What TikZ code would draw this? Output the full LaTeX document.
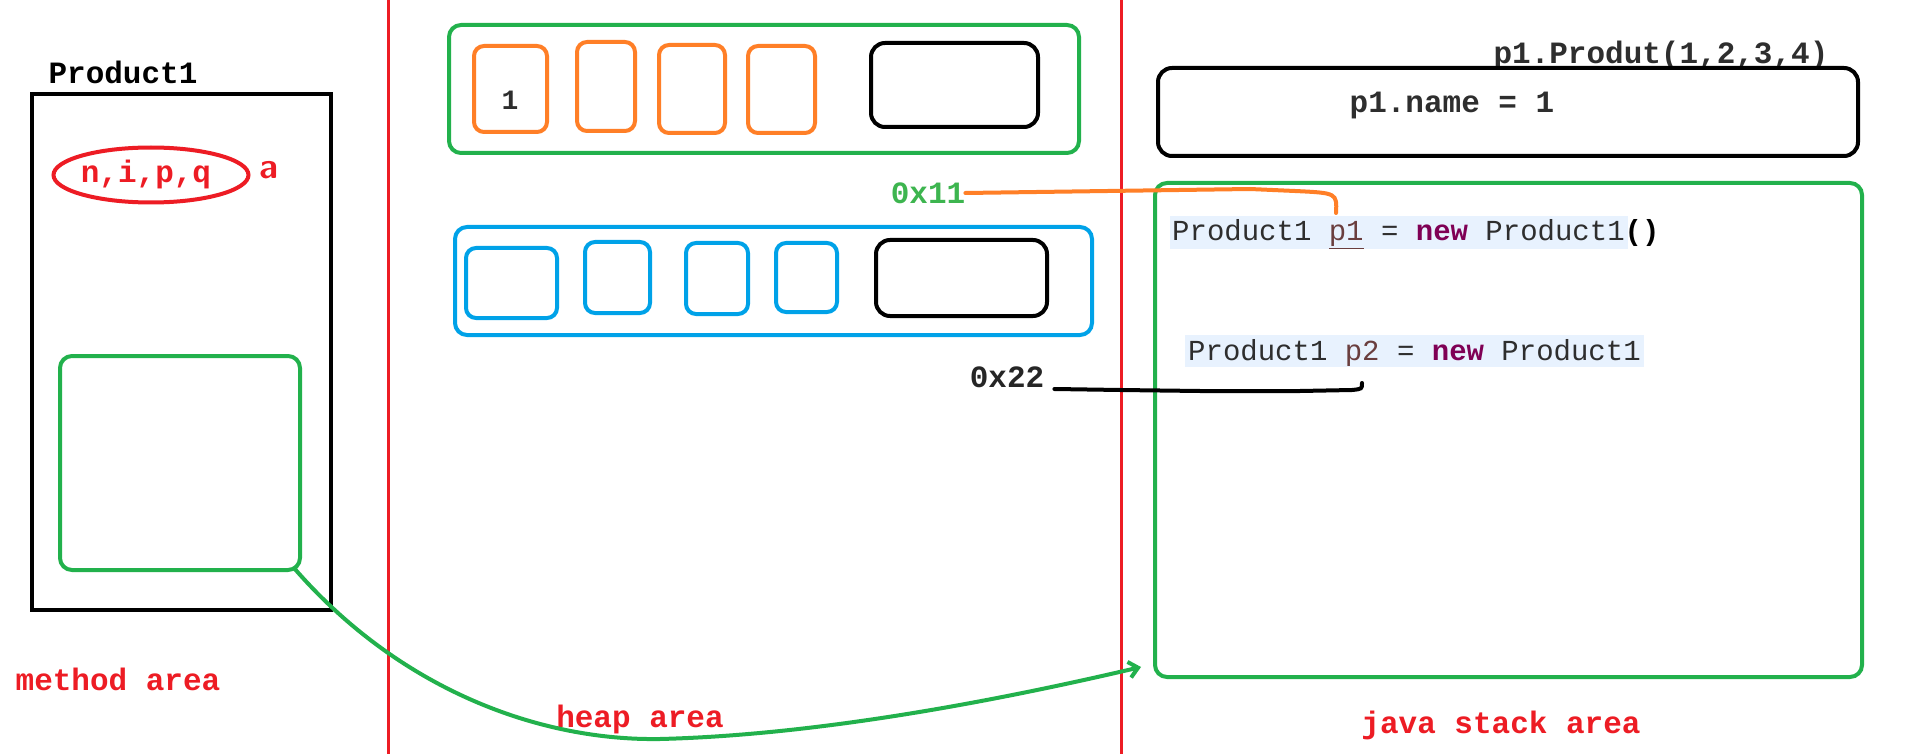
\documentclass[tikz,border=0pt]{standalone}
\usepackage{fontspec}
\setmonofont{Liberation Mono}
\usetikzlibrary{arrows.meta,shapes.geometric}
\definecolor{pred}{HTML}{ED1C24}
\definecolor{pgreen}{HTML}{22B14C}
\definecolor{tgreen}{HTML}{3DB54F}
\definecolor{porange}{HTML}{FF7F27}
\definecolor{pblue}{HTML}{00A2E8}
\definecolor{hl}{HTML}{E8F2FE}
\definecolor{kw}{HTML}{7F0055}
\definecolor{varc}{HTML}{6A3E3E}
\definecolor{codec}{HTML}{2E2E2E}
\newcommand\myfs[1]{\fontsize{#1}{#1}\selectfont}
\begin{document}
\begin{tikzpicture}[x=1pt,y=-1pt,
  bx/.style={draw, line width=4pt, rounded corners=12pt, inner sep=0pt},
  gbox/.style={bx, draw=pgreen},
  obox/.style={bx, draw=porange, rounded corners=10pt},
  bbox/.style={bx, draw=pblue, rounded corners=10pt},
  kbox/.style={bx, draw=black, rounded corners=14pt},
  lbl/.style={font=\ttfamily\bfseries\myfs{31}, inner sep=0pt},
  area/.style={font=\ttfamily\bfseries\myfs{31}, text=pred, inner sep=0pt},
  codetxt/.style={font=\ttfamily\myfs{29}, text=codec, inner sep=0pt, anchor=base west},
  redline/.style={draw=pred, line width=3pt}
]
\useasboundingbox[fill=white] (0,0) rectangle (1907,754);

% red separators
\coordinate (r1t) at (388,0); \coordinate (r1b) at (388,754);
\coordinate (r2t) at (1121,0); \coordinate (r2b) at (1121,754);
\draw[redline] (r1t) -- (r1b);
\draw[redline] (r2t) -- (r2b);

% method area
\node[lbl] (prodlbl) at (123,72) {Product1};
\node[draw, line width=4pt, minimum width=299pt, minimum height=516pt, inner sep=0pt] (classbox) at (181.5,352) {};
\node[draw=pred, line width=4pt, ellipse, minimum width=195pt, minimum height=55pt, inner sep=0pt] (ell) at (151,175) {};
\node[font=\ttfamily\bfseries\myfs{31}, text=pred, inner sep=0pt] (vars) at (146,174) {n,i,p,q};
\node[font=\sffamily\bfseries\myfs{36}, text=pred, inner sep=0pt] (ascr) at (269,170) {a};
\node[gbox, minimum width=240pt, minimum height=214pt] (lg) at (180,463) {};
\node[area] (marea) at (118,679) {method area};

% heap area
\node[gbox, minimum width=630pt, minimum height=128pt] (hg) at (764,89) {};
\node[obox, minimum width=73pt, minimum height=86pt] (o1) at (510.5,89) {};
\node[obox, minimum width=58pt, minimum height=89pt] (o2) at (606,86.5) {};
\node[obox, minimum width=66pt, minimum height=88pt] (o3) at (692,89) {};
\node[obox, minimum width=67pt, minimum height=87pt] (o4) at (781.5,89.5) {};
\node[kbox, minimum width=167pt, minimum height=84pt] (k1) at (954.5,85) {};
\node[font=\ttfamily\bfseries\myfs{28}, text=codec, inner sep=0pt] (one) at (510,100) {1};

\node[bx, draw=pblue, minimum width=637pt, minimum height=108pt] (hb) at (773.5,281) {};
\node[bbox, minimum width=91pt, minimum height=70pt] (b1) at (511.5,283) {};
\node[bbox, minimum width=65pt, minimum height=71pt] (b2) at (617.5,277.5) {};
\node[bbox, minimum width=62pt, minimum height=71pt] (b3) at (717,278.5) {};
\node[bbox, minimum width=61pt, minimum height=69pt] (b4) at (806.5,277.5) {};
\node[kbox, minimum width=171pt, minimum height=76pt] (k2) at (961.5,278) {};

\node[lbl, text=tgreen] (x11) at (928,193) {0x11};
\node[lbl, text=black!85] (x22) at (1007,377) {0x22};
\node[area] (harea) at (640,719) {heap area};

% stack area
\node[lbl, text=codec] (produt) at (1661,55) {p1.Produt(1,2,3,4)};
\node[kbox, minimum width=700pt, minimum height=88pt] (namebox) at (1508,112) {};
\node[lbl, text=codec] (pname) at (1452,106) {p1.name = 1};
\node[gbox, minimum width=707pt, minimum height=494pt] (sg) at (1508.5,430) {};

\fill[hl] (1170,216) rectangle (1628,249);
\fill[hl] (1185,335) rectangle (1644,367);
\node[codetxt] (c1) at (1172,241) {Product1 \textcolor{varc}{\underline{p1}} = \textcolor{kw}{\bfseries new} Product1\textcolor{black}{\bfseries ()}};
\node[codetxt] (c2) at (1188,360) {Product1 \textcolor{varc}{p2} = \textcolor{kw}{\bfseries new} Product1};
\node[area] (sarea) at (1501,725) {java stack area};

% connectors
\coordinate (p1top) at (1336,213);
\draw[porange, line width=4pt, line cap=round] (x11.east) -- (1250,189) -- (1295,191) .. controls (1337,193) .. (p1top);
\coordinate (p2end) at (1362,383);
\draw[black, line width=4pt, line cap=round] ([xshift=10pt]x22.east |- 0,389) -- (1120,390) -- (1200,391) -- (1300,391) -- (1352,390) .. controls (1362,389) .. (p2end);
\coordinate (arrend) at (1141,667);
\draw[pgreen, line width=4pt, -{Straight Barb[length=9pt,width=16pt]}] ([shift={(-8,-4)}]lg.south east) .. controls (400,690) and (540,741) .. (660,739) .. controls (820,735) and (1000,700) .. (arrend);
\end{tikzpicture}
\end{document}
